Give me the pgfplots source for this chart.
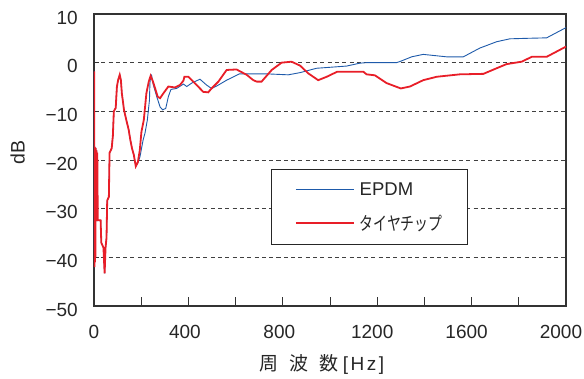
\documentclass[border=0pt]{standalone}
\usepackage{fontspec}
\setmainfont{Liberation Sans}
\newfontfamily\cjk{Noto Sans CJK JP}
\newfontfamily\cjkn{Noto Sans CJK JP}[FakeStretch=0.75]
\usepackage{pgfplots}
\pgfplotsset{compat=1.18}
\definecolor{myred}{RGB}{232,30,40}
\definecolor{myblue}{RGB}{30,90,170}
\begin{document}
\begin{tikzpicture}
\begin{axis}[
  scale only axis, width=472bp, height=292bp,
  xmin=0, xmax=2000, ymin=-50, ymax=10,
  xtick={0,200,...,2000},
  xticklabels={0,,\kern-7bp 400,,\kern-7bp 800,,\kern-10bp 1200,,\kern-10bp 1600,,\kern-10bp 2000},
  ytick={-50,-40,...,10},
  yticklabels={−50,−40,−30,−20,−10,0,10},
  tick pos=left, tick align=inside,
  xtick style={/pgfplots/major tick length=9bp, line width=0.8bp, color=black!80},
  ytick style={/pgfplots/major tick length=5bp, line width=0.8bp, color=black!80},
  ymajorgrids,
  grid style={black!75, line width=0.7bp, dash pattern=on 4bp off 3.3bp},
  axis line style={line width=1.1bp, black!80},
  ticklabel style={font=\fontsize{19bp}{22bp}\selectfont, text=black!85},
  xticklabel style={anchor=base, yshift=-33bp, inner sep=0pt},
  yticklabel style={anchor=east, inner sep=0pt, xshift=-16bp, yshift=-3.5bp},
  xlabel={{\cjk 周}\hspace{11bp}{\cjk 波}\hspace{11bp}{\cjk 数}\hspace{4bp}[\hspace{2.5bp}H\hspace{2.5bp}z\hspace{2.5bp}]},
  xlabel style={at={(axis description cs:0.483,-0.202)}, anchor=center, font=\fontsize{19bp}{22bp}\selectfont, text=black!85},
  ylabel={dB},
  ylabel style={at={(axis description cs:-0.162,0.526)}, anchor=center, font=\fontsize{19.5bp}{22bp}\selectfont, text=black!85},
  legend style={at={(axis description cs:0.376,0.469)}, anchor=north west,
    draw=black!85, line width=0.9bp, fill=white,
    inner xsep=23bp, inner ysep=11bp, row sep=14bp, column sep=3bp,
    font=\fontsize{18.5bp}{22bp}\selectfont, text=black!85},
  legend cell align=left,
  legend image code/.code={\draw[#1] (0bp,0bp) -- (58bp,0bp);},
]
\addlegendimage{myblue, line width=0.9bp}
\addlegendentry{EPDM}
\addlegendimage{myred, line width=1.8bp}
\addlegendentry{{\cjkn タイヤチップ}}
\addplot[myblue, line width=0.9bp, forget plot] coordinates {
(1,-1.8)(2,-42)(4,-17.3)(5,-41)(7,-17.5)(9,-32)(11,-18)(13,-32.5)
(17,-32.4)(28,-32.4)(31,-37)(40,-38)(45,-43.3)(49,-38)(53,-36)(56,-28.3)
(63,-27.6)(66,-18.5)(75,-17.6)(80,-15)(84,-10)(92,-9.3)(97,-5)(102,-3.6)
(109,-2.5)(114,-3.6)(118,-6.3)(124,-8.5)(127,-9.7)(137,-11.8)(147,-13.8)
(154,-15.9)(161,-17.6)(169,-19)(177,-21.3)(186,-20.6)(195,-19.3)(208,-15.9)
(216,-14.5)(226,-11.8)(235,-7.7)(237,-4.2)(240,-2.9)(244,-2.6)(251,-4.5)
(266,-7)(280,-9.1)(291,-9.7)(304,-9.4)(315,-7.0)(326,-5.5)(350,-5.3)
(379,-4.4)(393,-4.9)(414,-4.2)(449,-3.4)(477,-4.6)(498,-5.3)(520,-4.8)
(562,-3.6)(616,-2.3)(703,-2.3)(732,-2.3)(823,-2.5)(873,-2.05)(943,-1.15)
(986,-1.0)(1070,-0.7)(1127,-0.1)(1155,0)(1282,0)(1300,0.3)(1346,1.2)
(1395,1.7)(1494,1.2)(1565,1.2)(1635,3.0)(1706,4.3)(1762,4.9)(1833,5.0)
(1918,5.1)(2000,7.2)
};
\addplot[myred, line width=1.8bp, forget plot] coordinates {
(1,-1.8)(2,-42)(3,-17.3)(4,-41)(5,-17.5)(6,-40)(7,-17.5)(8,-32)(10,-18)(12,-32.5)
(14,-18.5)(16,-32.4)(28,-32.4)(31,-37)(40,-38)(45,-43.3)(49,-38)(53,-36)(56,-28.3)
(63,-27.6)(66,-18.5)(75,-17.6)(80,-15)(84,-10)(92,-9.3)(97,-5)(102,-3.6)
(109,-2.5)(114,-3.6)(118,-6.3)(124,-8.5)(127,-9.7)(137,-11.8)(147,-13.8)
(154,-15.9)(161,-17.6)(169,-19)(177,-21.3)(186,-20.4)(194,-18)(201,-14.2)
(211,-11.8)(222,-6.3)(232,-3.9)(240,-2.7)(250,-3.9)(261,-5.6)(270,-7.0)
(280,-7.3)(294,-6.3)(315,-4.9)(343,-5.1)(364,-4.6)(379,-3.7)(383,-2.9)
(400,-2.9)(414,-3.6)(435,-4.6)(463,-6.0)(484,-6.1)(498,-5.3)(527,-3.9)
(562,-1.5)(604,-1.4)(647,-2.5)(675,-3.6)(690,-3.9)(710,-3.9)(753,-1.5)
(795,0)(837,0.2)(873,-0.6)(908,-2.2)(950,-3.6)(986,-2.9)(1031,-1.85)
(1141,-1.85)(1155,-2.4)(1190,-2.6)(1240,-4.2)(1300,-5.3)(1339,-4.9)
(1395,-3.6)(1452,-2.9)(1550,-2.4)(1650,-2.3)(1706,-1.15)(1748,-0.3)
(1812,0.2)(1855,1.2)(1918,1.2)(2000,3.3)
};
\coordinate (sw) at (rel axis cs:0,0);
\coordinate (ne) at (rel axis cs:1,1);
\end{axis}
\pgfresetboundingbox
\path[use as bounding box] ([shift={(-94bp,-73bp)}]sw) rectangle ([shift={(18bp,14bp)}]ne);
\end{tikzpicture}
\end{document}
